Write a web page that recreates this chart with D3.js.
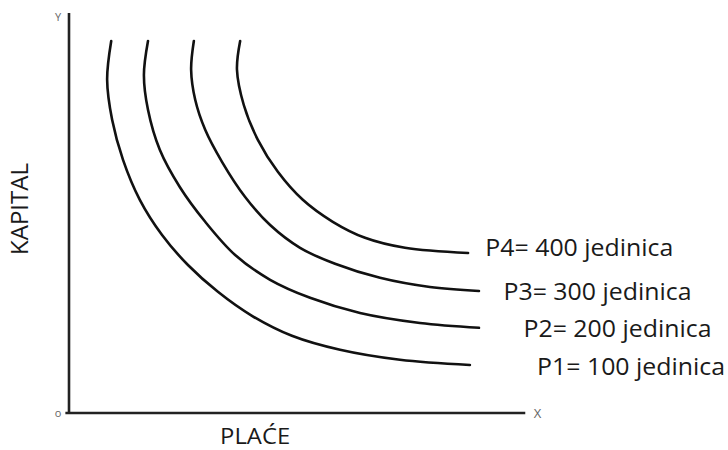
<!DOCTYPE html>
<html>
<head>
<meta charset="utf-8">
<script src="https://cdn.jsdelivr.net/npm/d3@7"></script>
<style>
  body { margin: 0; background: #fff; }
  text { font-family: "Open Sans", "Noto Sans", sans-serif; fill: #1a1a1a; }
</style>
</head>
<body>
<div id="chart"></div>
<script>
/* isoquants: x = rad (plaće), y = kapital, both on a 0..100 scale */
const p1 = [[9.3,93],[8.4,83.3],[9.5,73.3],[11.9,63.3],[15.6,53.3],[20.5,44.5],[26.2,37],[32.8,30.3],[40.3,24.3],[49.1,19.3],[59.7,15.8],[72.9,13.3],[88.3,12]];
const p2 = [[17.4,93],[16.5,84.5],[17.4,75.8],[20.0,65.8],[24.4,56.5],[30.0,47.8],[36.6,39.5],[44.3,33.3],[53.1,28.8],[64.1,25],[77.3,22.5],[90.3,21.3]];
const p3 = [[27.5,93],[26.9,85.8],[27.8,78.3],[30.0,70.8],[33.7,62.8],[38.8,54],[44.3,47],[50.9,41.3],[58.6,37.3],[68.5,33.8],[79.5,31.5],[90.3,30.5]];
const p4 = [[37.7,93],[37.0,85.8],[38.5,77],[41.6,68.3],[46.0,60.3],[51.5,53.3],[58.1,47.8],[65.2,43.8],[74.0,41.3],[87.9,40]];
const curveLabels = ["P1= 100 jedinica", "P2= 200 jedinica", "P3= 300 jedinica", "P4= 400 jedinica"];
const xTitle = "PLAĆE";
const yTitle = "KAPITAL";

const width = 728, height = 450;
const origin = { x: 69, y: 413 };

const svg = d3.select("#chart").append("svg")
  .attr("width", width)
  .attr("height", height);

const x = d3.scaleLinear().domain([0, 100]).range([origin.x, origin.x + 454]);
const y = d3.scaleLinear().domain([0, 100]).range([origin.y, origin.y - 400]);

/* axes - plain lines, no ticks */
svg.append("line")
  .attr("x1", x(0)).attr("x2", x(0))
  .attr("y1", y(0)).attr("y2", y(100))
  .attr("stroke", "#222").attr("stroke-width", 2.6);
svg.append("line")
  .attr("x1", x(-0.8)).attr("x2", x(100.5))
  .attr("y1", y(0)).attr("y2", y(0))
  .attr("stroke", "#222").attr("stroke-width", 2.6);

svg.append("text").attr("x", x(0) - 11).attr("y", y(98)).attr("font-size", 11)
  .attr("text-anchor", "middle").style("fill", "#666").text("Y");
svg.append("text").attr("x", x(0) - 11).attr("y", y(0) + 4).attr("font-size", 11)
  .attr("text-anchor", "middle").style("fill", "#666").text("o");
svg.append("text").attr("x", x(103.2)).attr("y", y(0) + 5).attr("font-size", 13)
  .attr("text-anchor", "middle").style("fill", "#666").text("X");

svg.append("text")
  .attr("x", x(41)).attr("y", y(0) + 31)
  .attr("text-anchor", "middle").attr("font-size", 22)
  .attr("textLength", 70).attr("lengthAdjust", "spacingAndGlyphs")
  .text(xTitle);
svg.append("text")
  .attr("transform", `translate(28, ${y(51)}) rotate(-90)`)
  .attr("text-anchor", "middle").attr("font-size", 24)
  .text(yTitle);

const line = d3.line()
  .x((d) => x(d[0]))
  .y((d) => y(d[1]))
  .curve(d3.curveCatmullRom.alpha(0.5));

const series = [p1, p2, p3, p4];
svg.selectAll("path.iso")
  .data(series)
  .enter()
  .append("path")
  .attr("class", "iso")
  .attr("d", line)
  .attr("fill", "none")
  .attr("stroke", "#111")
  .attr("stroke-width", 2.6)
  .attr("stroke-linecap", "round");

/* labels sit to the right of each curve end, staggered */
const labelShift = [14.8, 9.8, 5.4, 3.8];
const labelDrop = [-2.5, -2.2, -2.2, -0.7];
svg.selectAll("text.lbl")
  .data(series)
  .enter()
  .append("text")
  .attr("class", "lbl")
  .attr("x", (d, i) => x(d[d.length - 1][0] + labelShift[i]))
  .attr("y", (d, i) => y(d[d.length - 1][1] + labelDrop[i]))
  .attr("font-size", 24)
  .attr("textLength", 188)
  .attr("lengthAdjust", "spacingAndGlyphs")
  .text((d, i) => curveLabels[i]);
</script>
</body>
</html>
